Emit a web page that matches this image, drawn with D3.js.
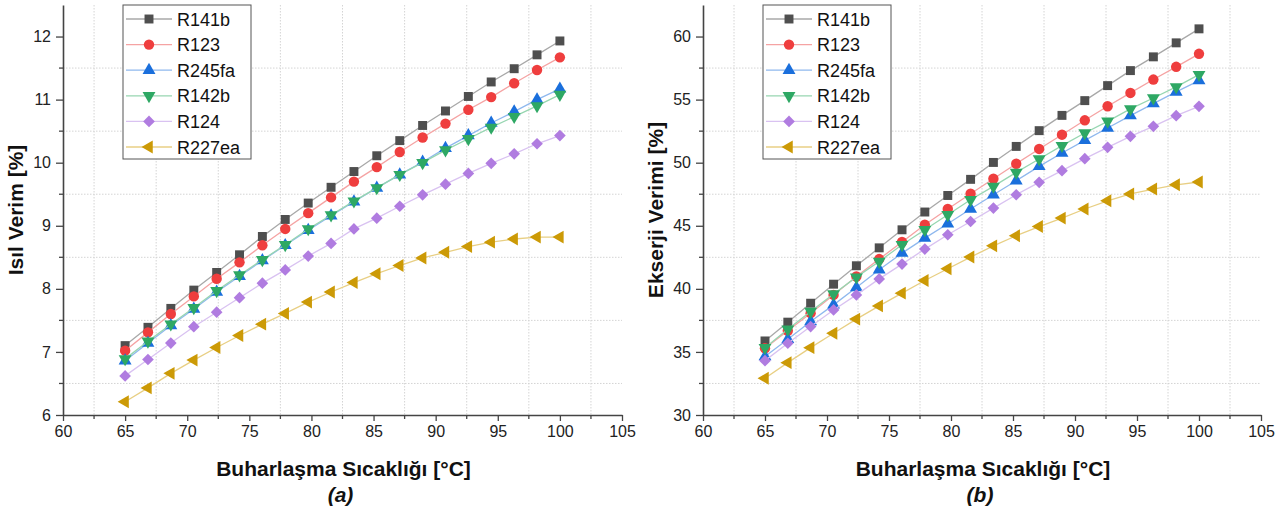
<!DOCTYPE html>
<html>
<head>
<meta charset="utf-8">
<script src="https://cdn.jsdelivr.net/npm/d3@7"></script>
<style>
  body { margin: 0; background: #fff; }
  svg { display: block; font-family: Arial, "Liberation Sans", sans-serif; }
</style>
</head>
<body>
<svg width="1288" height="515"></svg>
<script>

// evaporation temperature (x values, same for both panels)
var temps = [65, 66.84, 68.68, 70.53, 72.37, 74.21, 76.05, 77.89, 79.74, 81.58,
             83.42, 85.26, 87.11, 88.95, 90.79, 92.63, 94.47, 96.32, 98.16, 100];

var xTicks = [60, 65, 70, 75, 80, 85, 90, 95, 100, 105];

// (a) thermal efficiency [%]
var isil_R141b  = [7.10, 7.39, 7.69, 7.98, 8.26, 8.54, 8.83, 9.10, 9.36, 9.61,
                   9.86, 10.11, 10.35, 10.59, 10.82, 11.05, 11.28, 11.49, 11.71, 11.93];
var isil_R123   = [7.02, 7.31, 7.60, 7.88, 8.16, 8.42, 8.69, 8.95, 9.20, 9.45,
                   9.70, 9.93, 10.17, 10.40, 10.62, 10.84, 11.04, 11.26, 11.47, 11.67];
var isil_R245fa = [6.86, 7.14, 7.42, 7.68, 7.95, 8.20, 8.45, 8.69, 8.93, 9.16,
                   9.38, 9.60, 9.81, 10.01, 10.23, 10.43, 10.63, 10.81, 11.00, 11.17];
var isil_R142b  = [6.89, 7.17, 7.44, 7.70, 7.97, 8.22, 8.46, 8.70, 8.95, 9.17,
                   9.39, 9.60, 9.81, 10.00, 10.20, 10.38, 10.56, 10.73, 10.90, 11.08];
var isil_R124   = [6.62, 6.88, 7.14, 7.40, 7.63, 7.86, 8.09, 8.30, 8.52, 8.72,
                   8.95, 9.12, 9.31, 9.49, 9.66, 9.83, 9.99, 10.14, 10.30, 10.43];
var isil_R227ea = [6.21, 6.43, 6.66, 6.87, 7.07, 7.26, 7.44, 7.61, 7.79, 7.95,
                   8.10, 8.24, 8.37, 8.49, 8.58, 8.67, 8.74, 8.79, 8.82, 8.82];

// (b) exergy efficiency [%]
var ekserji_R141b  = [35.87, 37.36, 38.86, 40.37, 41.83, 43.25, 44.68, 46.09, 47.40, 48.68,
                      50.02, 51.29, 52.54, 53.75, 54.92, 56.11, 57.30, 58.39, 59.50, 60.61];
var ekserji_R123   = [35.29, 36.67, 38.07, 39.52, 40.98, 42.36, 43.71, 45.08, 46.33, 47.54,
                      48.73, 49.92, 51.09, 52.22, 53.36, 54.47, 55.53, 56.59, 57.60, 58.63];
var ekserji_R245fa = [34.63, 36.01, 37.41, 38.73, 40.10, 41.51, 42.83, 44.02, 45.16, 46.33,
                      47.46, 48.57, 49.71, 50.77, 51.77, 52.75, 53.73, 54.68, 55.61, 56.51];
var ekserji_R142b  = [35.34, 36.80, 38.20, 39.60, 40.93, 42.17, 43.49, 44.68, 45.87, 47.06,
                      48.12, 49.23, 50.29, 51.35, 52.35, 53.28, 54.26, 55.13, 56.01, 56.98];
var ekserji_R124   = [34.31, 35.69, 37.01, 38.33, 39.52, 40.79, 41.96, 43.15, 44.29, 45.34,
                      46.40, 47.46, 48.44, 49.37, 50.32, 51.22, 52.09, 52.88, 53.73, 54.47];
var ekserji_R227ea = [32.91, 34.15, 35.34, 36.48, 37.60, 38.65, 39.66, 40.66, 41.59, 42.52,
                      43.41, 44.21, 44.94, 45.61, 46.33, 46.98, 47.52, 47.91, 48.25, 48.47];

var names = ["R141b", "R123", "R245fa", "R142b", "R124", "R227ea"];

// marker colour, line colour, symbol, rotation
var styles = [
    {fill: "#4f4f4f", line: "#a8a8a8", symbol: d3.symbolSquare,   rot: 0,   size: 80},
    {fill: "#ef3e3e", line: "#f5a3a3", symbol: d3.symbolCircle,   rot: 0,   size: 85},
    {fill: "#1a6fdc", line: "#8fb8ee", symbol: d3.symbolTriangle, rot: 0,   size: 72},
    {fill: "#2ea864", line: "#97d6b1", symbol: d3.symbolTriangle, rot: 180, size: 72},
    {fill: "#b07ce0", line: "#d9c2f1", symbol: d3.symbolSquare,   rot: 45,  size: 68},
    {fill: "#cc9a06", line: "#e8cf84", symbol: d3.symbolTriangle, rot: -90, size: 72}
];

var panels = [
    {x0: 63,  w: 559, domain: [6, 12.5],  ticks: [6, 7, 8, 9, 10, 11, 12],
     minor: [6.5, 7.5, 8.5, 9.5, 10.5, 11.5],
     series: [isil_R141b, isil_R123, isil_R245fa, isil_R142b, isil_R124, isil_R227ea],
     ylabel: "Isıl Verim [%]", tag: "(a)", legendX: 123},
    {x0: 703, w: 558, domain: [30, 62.5], ticks: [30, 35, 40, 45, 50, 55, 60],
     minor: [32.5, 37.5, 42.5, 47.5, 52.5, 57.5],
     series: [ekserji_R141b, ekserji_R123, ekserji_R245fa, ekserji_R142b, ekserji_R124, ekserji_R227ea],
     ylabel: "Ekserji Verimi [%]", tag: "(b)", legendX: 763}
];

var plotTop = 5, plotH = 410;
var xMinor = [62.5, 67.5, 72.5, 77.5, 82.5, 87.5, 92.5, 97.5, 102.5];

var svg = d3.select("svg");

panels.forEach(drawPanel);

function symbolPath(st) {
    return d3.symbol().type(st.symbol).size(st.size)();
}

function drawPanel(p) {
    var g = svg.append("g").attr("transform", "translate(" + p.x0 + "," + plotTop + ")");

    var x = d3.scaleLinear().domain([60, 105]).range([0, p.w]);
    var y = d3.scaleLinear().domain(p.domain).range([plotH, 0]);

    //dotted grid, only at the half steps
    g.append("g").selectAll("line").data(p.minor).enter().append("line")
        .attr("x1", 0).attr("x2", p.w)
        .attr("y1", function(d) { return y(d); }).attr("y2", function(d) { return y(d); })
        .attr("stroke", "#d4d4d4").attr("stroke-dasharray", "1.5,1.5");
    g.append("g").selectAll("line").data(xMinor).enter().append("line")
        .attr("y1", 0).attr("y2", plotH)
        .attr("x1", function(d) { return x(d); }).attr("x2", function(d) { return x(d); })
        .attr("stroke", "#d4d4d4").attr("stroke-dasharray", "1.5,1.5");

    //axes
    var xAxis = g.append("g").attr("transform", "translate(0," + plotH + ")")
        .call(d3.axisBottom(x).tickValues(xTicks).tickFormat(d3.format("d"))
            .tickSize(6).tickPadding(5).tickSizeOuter(0));
    xAxis.append("g").selectAll("line").data(xMinor).enter().append("line")
        .attr("x1", function(d) { return x(d); }).attr("x2", function(d) { return x(d); })
        .attr("y1", 0).attr("y2", 4).attr("stroke", "#444").attr("stroke-width", 1.3);

    var yAxis = g.append("g")
        .call(d3.axisLeft(y).tickValues(p.ticks).tickFormat(d3.format("d"))
            .tickSize(7).tickPadding(5).tickSizeOuter(0));
    yAxis.append("g").selectAll("line").data(p.minor).enter().append("line")
        .attr("y1", function(d) { return y(d); }).attr("y2", function(d) { return y(d); })
        .attr("x1", 0).attr("x2", -4).attr("stroke", "#444").attr("stroke-width", 1.3);

    [xAxis, yAxis].forEach(function(a) {
        a.select(".domain").attr("stroke", "#444").attr("stroke-width", 1.6);
        a.selectAll(".tick line").attr("stroke", "#444").attr("stroke-width", 1.3);
        a.selectAll(".tick text").attr("fill", "#222").style("font-size", "16px");
    });

    //series lines + markers
    var line = d3.line()
        .x(function(d, i) { return x(temps[i]); })
        .y(function(d) { return y(d); });

    p.series.forEach(function(vals, k) {
        var st = styles[k];
        g.append("path").datum(vals)
            .attr("d", line)
            .attr("fill", "none")
            .attr("stroke", st.line)
            .attr("stroke-width", 1.3);
        g.append("g").selectAll("path").data(vals).enter().append("path")
            .attr("d", symbolPath(st))
            .attr("fill", st.fill)
            .attr("transform", function(d, i) {
                return "translate(" + x(temps[i]) + "," + y(d) + ") rotate(" + st.rot + ")";
            });
    });

    //axis titles
    svg.append("text")
        .attr("x", p.x0 + p.w / 2 + 1).attr("y", 476)
        .attr("text-anchor", "middle")
        .style("font-weight", "bold").style("font-size", "21px").attr("fill", "#111")
        .text("Buharlaşma Sıcaklığı [°C]");
    svg.append("text")
        .attr("x", p.x0 + p.w / 2 - 2).attr("y", 502)
        .attr("text-anchor", "middle")
        .style("font-weight", "bold").style("font-style", "italic").style("font-size", "21px")
        .attr("fill", "#111")
        .text(p.tag);
    svg.append("text")
        .attr("transform", "translate(" + (p.x0 - 40) + "," + (plotTop + plotH / 2) + ") rotate(-90)")
        .attr("text-anchor", "middle")
        .style("font-weight", "bold").style("font-size", "21px").attr("fill", "#111")
        .text(p.ylabel);

    //legend
    var lg = svg.append("g").attr("transform", "translate(" + p.legendX + ",5)");
    lg.append("rect").attr("x", 0).attr("y", 0).attr("width", 128).attr("height", 154)
        .attr("fill", "#fff").attr("stroke", "#555").attr("stroke-width", 1);
    names.forEach(function(n, k) {
        var st = styles[k];
        var cy = 14 + k * 25.6;
        lg.append("line").attr("x1", 3).attr("x2", 49).attr("y1", cy).attr("y2", cy)
            .attr("stroke", st.line).attr("stroke-width", 1.3);
        lg.append("path").attr("d", symbolPath(st)).attr("fill", st.fill)
            .attr("transform", "translate(26," + cy + ") rotate(" + st.rot + ")");
        lg.append("text").attr("x", 54).attr("y", cy + 6.5)
            .style("font-size", "18px").attr("fill", "#111").text(n);
    });
}

</script>
</body>
</html>
